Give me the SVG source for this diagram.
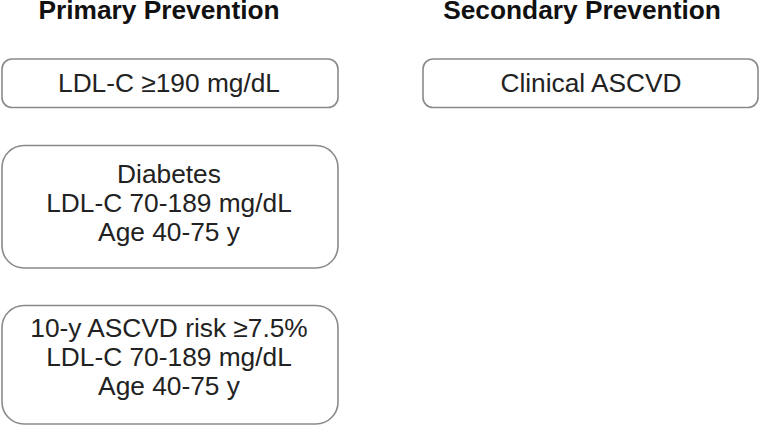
<svg xmlns="http://www.w3.org/2000/svg" width="760" height="426" viewBox="0 0 760 426">
<style>
.box{fill:#fff;stroke:#8a8a8a;stroke-width:1.6}
.t{font-family:"Liberation Sans",Arial,sans-serif;font-size:26.3px;fill:#222;text-anchor:middle}
.h{font-family:"Liberation Sans",Arial,sans-serif;font-size:26.3px;font-weight:bold;fill:#111;text-anchor:middle}
</style>
<rect width="760" height="426" fill="#fff"/>
<g id="title-primary"><text class="h" x="159" y="18.5">Primary Prevention</text></g>
<g id="title-secondary"><text class="h" x="582" y="18.5">Secondary Prevention</text></g>
<g id="connectors"></g>
<g id="node-ldl190">
<rect class="box" x="2" y="59" width="336" height="48.5" rx="10"/>
<text class="t" x="169" y="92">LDL-C ≥190 mg/dL</text>
</g>
<g id="node-clinical">
<rect class="box" x="423" y="59" width="335" height="48.5" rx="10"/>
<text class="t" x="591" y="92">Clinical ASCVD</text>
</g>
<g id="node-diabetes">
<rect class="box" x="2" y="145.5" width="336" height="122.5" rx="22"/>
<text class="t" x="169" y="183">Diabetes</text>
<text class="t" x="169" y="212">LDL-C 70-189 mg/dL</text>
<text class="t" x="169" y="241">Age 40-75 y</text>
</g>
<g id="node-risk">
<rect class="box" x="2" y="305.5" width="336" height="118.5" rx="22"/>
<text class="t" x="169" y="337">10-y ASCVD risk ≥7.5%</text>
<text class="t" x="169" y="366">LDL-C 70-189 mg/dL</text>
<text class="t" x="169" y="395">Age 40-75 y</text>
</g>
</svg>
